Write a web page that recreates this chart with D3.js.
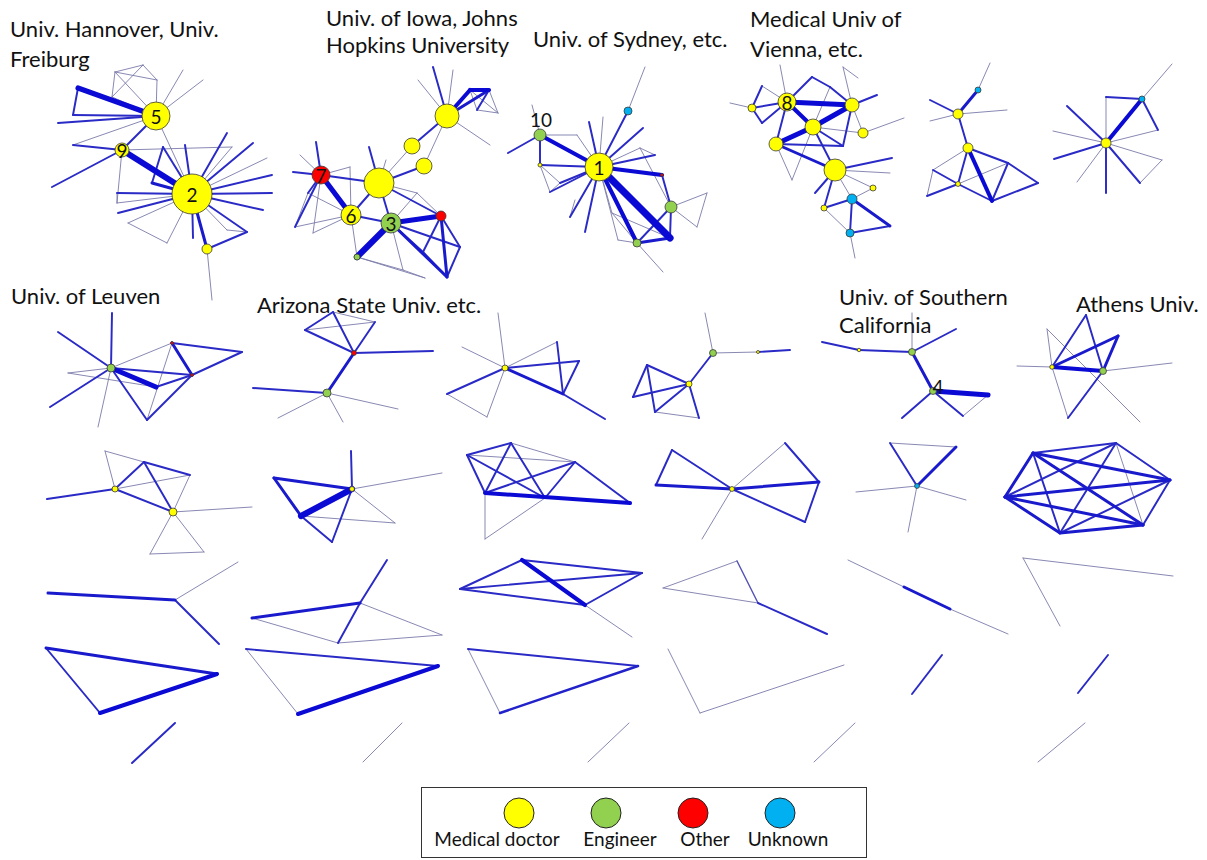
<!DOCTYPE html>
<html>
<head>
<meta charset="utf-8">
<script src="https://cdn.jsdelivr.net/npm/d3@7"></script>
<style>
    body { margin: 0; background: #fff; }
    #chart { width: 1207px; height: 860px; }
    text { font-family: Lato, "Open Sans", sans-serif; fill: #111; }
</style>
</head>
<body>
<div id="chart"></div>
<script>
/* * * * * * * * * * * * * *
*   co-author network data   *
* * * * * * * * * * * * * */

// node: [id, x, y, type, size, label]  type: M doctor, E engineer, O other, U unknown, "" = no marker
// edge: [source, target, weight]

const topNodes = [
    // Univ. Hannover, Univ. Freiburg
    ["h5",156,116,"M",196,"5"], ["h9",122,150,"M",49,"9"], ["h2",192,194,"M",400,"2"], ["hs",207,249,"M",25],
    ["ha",115,72,""], ["hb",143,65,""], ["hc",157,80,""], ["hd",112,97,""], ["he",78,88,""], ["hf",73,115,""],
    ["hg",58,123,""], ["hh",183,70,""], ["hi",203,80,""], ["hj",73,145,""], ["hk",52,187,""], ["hl",117,203,""],
    ["hr1",227,133,""], ["hr2",253,143,""], ["hr3",267,158,""], ["hr4",272,175,""], ["hr5",272,193,""],
    ["hr6",263,210,""], ["hr7",247,232,""], ["hr8",227,230,""], ["hr9",193,238,""], ["hr10",167,243,""],
    ["hr11",128,223,""], ["hr12",118,213,""], ["hr13",117,193,""], ["hr14",152,183,""], ["hr15",163,147,""],
    ["hr16",185,145,""], ["hr17",232,147,""], ["hz",212,300,""],
    // Univ. of Iowa, Johns Hopkins
    ["iA",447,116,"M",144], ["iB",412,146,"M",64], ["iC",424,166,"M",64], ["iD",379,183,"M",225],
    ["i7",321,175,"O",81,"7"], ["i6",351,215,"M",100,"6"], ["i3",391,223,"E",100,"3"], ["iR",441,216,"O",25], ["iG",357,257,"E",9],
    ["ia1",433,67,""], ["ia2",453,70,""], ["ia3",418,80,""], ["ia4",470,90,""], ["ia5",489,90,""], ["ia6",498,113,""],
    ["ia7",477,110,""], ["ia8",490,145,""], ["id1",369,147,""], ["id2",386,160,""], ["id3",417,193,""],
    ["is1",316,142,""], ["is2",300,155,""], ["is3",293,172,""], ["is4",350,167,""], ["is5",295,227,""],
    ["is6",308,193,""], ["is7",313,233,""], ["it1",460,247,""], ["it2",447,277,""], ["it3",403,270,""],
    ["it4",423,252,""], ["it5",425,278,""],
    // Univ. of Sydney
    ["s1",599,167,"M",196,"1"], ["s10",540,135,"E",36,"10"], ["sC",628,111,"U",16], ["sG",671,207,"E",36],
    ["sG2",637,243,"E",16], ["sy",540,165,"M",4], ["sr",662,175,"O",2],
    ["su1",589,122,""], ["su2",603,117,""], ["su3",645,67,""], ["su4",643,128,""], ["su5",655,155,""],
    ["su6",508,153,""], ["su7",532,105,""], ["su8",577,135,""], ["su9",550,192,""], ["su10",570,217,""],
    ["su11",585,232,""], ["su12",670,238,""], ["su13",707,193,""], ["su14",697,227,""], ["su15",663,272,""],
    ["su16",640,148,""], ["su17",560,183,""], ["su18",612,213,""], ["su19",618,240,""], ["su20",575,200,""],
    // Medical Univ of Vienna
    ["v8",787,102,"M",81,"8"], ["vL",752,108,"M",16], ["vT",852,105,"M",49], ["vC",813,127,"M",64],
    ["vLe",776,144,"M",49], ["vR",863,133,"M",25], ["vB",835,170,"M",121], ["vY1",873,188,"M",9],
    ["vC1",852,199,"U",25], ["vY2",824,208,"M",9], ["vC2",850,233,"U",16],
    ["vw1",762,86,""], ["vw2",762,123,""], ["vw3",730,103,""], ["vw4",780,65,""], ["vw5",812,77,""],
    ["vw6",830,87,""], ["vw7",858,78,""], ["vw8",843,67,""], ["vw9",877,95,""], ["vw10",904,118,""],
    ["vw11",892,158,""], ["vw12",890,173,""], ["vw13",815,193,""], ["vw14",890,226,""], ["vw15",855,258,""],
    ["vw16",792,180,""], ["vw17",843,146,""],
    // small component right of Vienna
    ["xC",978,90,"U",9], ["xY1",958,114,"M",25], ["xY2",968,148,"M",25], ["xg",933,170,""], ["xY3",958,184,"M",6],
    ["x1",990,63,""], ["x2",930,100,""], ["x3",930,121,""], ["x4",1007,110,""], ["x5",1008,163,""],
    ["x6",992,201,""], ["x7",1038,183,""], ["x8",927,196,""],
    // star
    ["zY",1106,143,"M",25], ["zC",1142,99,"U",9],
    ["z1",1172,64,""], ["z2",1106,97,""], ["z3",1158,130,""], ["z4",1067,106,""], ["z5",1053,131,""],
    ["z6",1054,159,""], ["z7",1077,182,""], ["z8",1106,193,""], ["z9",1140,183,""], ["z10",1162,160,""]
];

const topEdges = [
    ["ha","hb",1], ["hb","hc",1], ["ha","hc",1], ["hb","hd",1], ["ha","hd",1], ["hc","h5",1], ["hd","h5",1], ["ha","h5",1],
    ["h5","he",5], ["he","hf",2], ["hf","h5",2], ["hg","h5",2], ["h5","hh",1], ["h5","hi",1], ["h5","h9",2],
    ["h5","h2",1], ["h5","hj",1], ["hj","h9",2], ["h9","hk",2], ["h9","h2",6], ["h9","hl",1], ["hl","h2",1],
    ["hl","hr13",1], ["h9","hr17",1], ["hr17","h2",1], ["hr15","hr14",2], ["hr14","h2",3], ["hr15","h2",2],
    ["hr16","h2",2], ["h2","hr1",2], ["h2","hr2",2], ["h2","hr3",1], ["h2","hr4",2], ["h2","hr5",2],
    ["h2","hr6",2], ["h2","hr7",2], ["h2","hr8",1], ["h2","hr9",2], ["h2","hr10",1], ["h2","hr11",1],
    ["h2","hr12",2], ["h2","hr13",2], ["hr8","hr7",1], ["hr10","hr11",1], ["h2","hs",3], ["hs","hr7",2], ["hs","hz",1],

    ["iA","ia1",2], ["iA","ia2",1], ["iA","ia3",1], ["iA","ia4",4], ["iA","ia5",3], ["ia4","ia5",4], ["ia5","ia6",1],
    ["ia4","ia6",1], ["ia4","ia7",1], ["ia7","ia6",1], ["ia5","ia7",2], ["iA","ia8",1], ["iA","iB",2], ["iA","iC",1],
    ["iB","iD",1], ["iC","iD",2], ["iD","id1",2], ["iD","id2",1], ["iD","i6",2], ["iD","i3",2], ["iD","i7",2],
    ["iD","id3",1], ["iD","iR",2], ["id3","i3",1], ["id3","iR",1], ["i7","is1",2], ["i7","is2",1], ["i7","is3",2],
    ["i7","i6",5], ["i7","is4",1], ["i7","is5",2], ["i7","is6",2], ["i7","is7",1], ["is5","is6",1], ["is6","i6",1],
    ["is7","i6",1], ["is5","i6",1], ["is4","i6",1], ["i6","i3",2], ["i6","iG",1], ["i3","iR",5], ["i3","iG",6],
    ["i3","it1",2], ["i3","it2",3], ["iR","it2",3], ["iR","it1",2], ["iR","it4",2], ["it4","it2",2], ["iG","it3",1],
    ["i3","it3",1], ["it3","it5",1], ["iG","it5",1], ["it1","it2",2], ["i3","it4",2],

    ["s1","su1",2], ["s1","su2",1], ["s1","sC",2], ["sC","su3",1], ["s1","su4",2], ["s1","su5",2], ["s1","su16",1],
    ["su16","su5",1], ["s1","s10",4], ["s10","su6",2], ["s10","su7",1], ["s10","sy",2], ["s10","su8",1], ["su8","s1",1],
    ["s1","sy",2], ["sy","su9",1], ["sy","su17",1], ["s1","su17",2], ["su17","su9",1], ["s1","su9",2], ["s1","su10",2],
    ["s1","su11",2], ["su10","su20",1], ["s1","sr",4], ["sr","sG",2], ["s1","su12",7], ["s1","sG2",4], ["sG2","su12",3],
    ["sG","su12",2], ["sG","su13",1], ["sG","su14",1], ["su13","su14",1], ["sG2","su15",1], ["s1","su18",1],
    ["su18","su12",1], ["su18","sG2",1], ["s1","su19",1], ["su19","sG2",1], ["sG","sG2",2], ["su16","sG",1],

    ["v8","vT",5], ["v8","vC",4], ["vC","vLe",5], ["vC","vT",5], ["v8","vLe",2], ["vLe","vB",3], ["vC","vB",2],
    ["vB","vw11",2], ["vB","vw12",1], ["vB","vw13",2], ["vB","vC1",1], ["vC1","vC2",2], ["vC1","vw14",3],
    ["vw14","vC2",2], ["vY2","vC1",2], ["vC1","vY1",1], ["vB","vY1",1], ["vY2","vB",2], ["vC2","vw15",1],
    ["vY2","vC2",1], ["vL","vw3",1], ["vw1","vL",2], ["vL","vw2",2], ["vw1","v8",1], ["vw2","v8",2], ["vL","v8",2],
    ["v8","vw4",1], ["v8","vw5",2], ["vw5","vw6",2], ["vw6","vT",2], ["vw6","vC",1], ["vw7","vw8",1], ["vw8","vT",1],
    ["vT","vw9",2], ["vR","vw10",1], ["vT","vR",1], ["vC","vR",1], ["vLe","vw16",1], ["vw16","vC",1],
    ["vT","vw17",2], ["vw17","vLe",2], ["vw17","vC",2],

    ["xC","x1",1], ["xY1","xC",3], ["xY1","x2",2], ["xY1","x3",1], ["xY1","x4",1], ["xY1","xY2",2], ["xY2","xg",1],
    ["xY2","xY3",2], ["xY2","x6",4], ["xY2","x5",2], ["xg","xY3",2], ["xg","x8",1], ["x8","xY3",2], ["xY3","x6",2],
    ["xY3","x5",1], ["x6","x5",2], ["x5","x7",2], ["x6","x7",2],

    ["zC","z1",1], ["zY","zC",4], ["z2","zC",2], ["zY","z2",1], ["zC","z3",2], ["zY","z3",1], ["zY","z4",2],
    ["zY","z5",1], ["zY","z6",2], ["zY","z7",1], ["zY","z8",2], ["zY","z9",2], ["z9","z10",1], ["zY","z10",1]
];

const midNodes = [
    // Univ. of Leuven
    ["lG",111,368,"E",16], ["lR",172,343,"O",2], ["l7",192,375,"O",2],
    ["l1",112,313,""], ["l2",58,332,""], ["l3",68,373,""], ["l4",50,407,""], ["l5",98,427,""], ["l6",147,420,""],
    ["l8",156,387,""], ["l9",242,352,""],
    // Arizona State Univ.
    ["aR",354,353,"O",6], ["aG",327,393,"E",16],
    ["a1",305,330,""], ["a2",333,312,""], ["a3",375,322,""], ["a4",433,351,""], ["a5",253,388,""],
    ["a6",278,418,""], ["a7",343,422,""], ["a8",398,409,""],
    ["bY",505,368,"M",9],
    ["b1",498,313,""], ["b2",462,347,""], ["b3",557,342,""], ["b4",563,394,""], ["b5",579,361,""],
    ["b6",605,419,""], ["b7",447,394,""], ["b8",487,417,""],
    ["cY",689,384,"M",9], ["cG",713,353,"E",12], ["c0",758,352,"M",2],
    ["c1",705,313,""], ["c2",790,350,""], ["c3",647,365,""], ["c4",633,397,""], ["c5",655,412,""], ["c6",699,418,""],
    // Univ. of Southern California
    ["eG",912,352,"E",12], ["e4",933,391,"E",12,"4"], ["ey",859,350,"M",3],
    ["e1",912,313,""], ["e2",956,329,""], ["e3",822,342,""], ["e5",988,395,""], ["e6",902,418,""], ["e7",963,416,""],
    // Athens Univ.
    ["kY",1052,367,"M",5], ["kG",1103,371,"E",12],
    ["k1",1047,329,""], ["k2",1086,315,""], ["k3",1118,336,""], ["k4",1068,418,""], ["k5",1140,422,""],
    ["k6",1017,366,""], ["k7",1172,363,""]
];

const midEdges = [
    ["lG","l1",2], ["lG","l2",2], ["lG","l3",1], ["lG","l4",2], ["lG","l5",1], ["lG","l6",2], ["lG","lR",1],
    ["lG","l8",5], ["lG","l7",2], ["l8","l7",2], ["lR","l7",3], ["lR","l9",2], ["l9","l7",2], ["lR","l6",1],
    ["l6","l7",2], ["l3","l8",1],
    ["aR","aG",3], ["aR","a1",2], ["aR","a2",2], ["aR","a3",2], ["a1","a2",2], ["a1","a3",1], ["a2","a3",1],
    ["aR","a4",2], ["aG","a5",2], ["aG","a6",1], ["aG","a7",1], ["aG","a8",1],
    ["bY","b1",1], ["bY","b2",1], ["bY","b3",1], ["b3","b4",2], ["bY","b5",2], ["b5","b4",2], ["bY","b4",3],
    ["b4","b6",2], ["bY","b7",2], ["b7","b8",1], ["bY","b8",1],
    ["cG","c1",1], ["cG","cY",2], ["cG","c0",1], ["c0","c2",2], ["cY","c3",2], ["cY","c4",2], ["c3","c4",2],
    ["c3","c5",2], ["c5","cY",2], ["c5","c6",1], ["cY","c6",2],
    ["eG","e1",1], ["eG","e2",2], ["eG","ey",2], ["ey","e3",2], ["eG","e4",3], ["e4","e5",5], ["e4","e6",2],
    ["e4","e7",2], ["e7","e5",1],
    ["kY","kG",4], ["kY","k3",3], ["kG","k3",3], ["kY","k2",2], ["k2","kG",2], ["kY","k6",1], ["kY","k4",1],
    ["k4","kG",2], ["kG","k7",1], ["k1","k5",1], ["k1","kY",1]
];

const row3Nodes = [
    ["mY1",115,489,"M",9], ["mY2",173,512,"M",16],
    ["m1",105,451,""], ["m2",144,462,""], ["m3",190,475,""], ["m4",47,499,""], ["m5",252,507,""],
    ["m6",150,554,""], ["m7",204,552,""],
    ["nY",352,489,"M",6],
    ["n1",351,451,""], ["n2",442,473,""], ["n3",274,478,""], ["n4",301,516,""], ["n5",332,542,""], ["n6",395,523,""],
    ["p1",467,455,""], ["p2",511,443,""], ["p3",575,462,""], ["p4",485,493,""], ["p5",545,498,""],
    ["p6",630,503,""], ["p7",485,539,""],
    ["qY",732,489,"M",6],
    ["q1",672,450,""], ["q2",656,485,""], ["q3",785,443,""], ["q4",819,482,""], ["q5",805,522,""], ["q6",702,539,""],
    ["oC",917,486,"U",6],
    ["o1",890,443,""], ["o2",956,447,""], ["o3",856,492,""], ["o4",966,500,""], ["o5",908,532,""],
    ["g1",1033,453,""], ["g2",1116,443,""], ["g3",1170,480,""], ["g4",1143,525,""], ["g5",1060,533,""], ["g6",1005,497,""]
];

const row3Edges = [
    ["mY1","m4",2], ["mY1","m1",1], ["m1","m2",1], ["mY1","m2",2], ["m2","m3",2], ["mY1","m3",1], ["m2","mY2",2],
    ["mY1","mY2",2], ["m3","mY2",1], ["mY2","m5",1], ["mY2","m6",1], ["mY2","m7",1], ["m6","m7",1],
    ["nY","n1",2], ["nY","n2",1], ["nY","n3",3], ["n3","n4",3], ["nY","n4",6], ["n4","n6",1], ["nY","n6",1],
    ["nY","n5",2], ["n4","n5",2],
    ["p1","p2",2], ["p2","p3",1], ["p1","p3",1], ["p1","p5",2], ["p2","p4",2], ["p2","p5",2], ["p3","p4",2],
    ["p3","p5",2], ["p1","p4",2], ["p4","p6",4], ["p3","p6",2], ["p4","p7",1], ["p5","p7",1],
    ["qY","q1",2], ["q1","q2",2], ["q2","qY",3], ["qY","q3",1], ["q3","q4",2], ["qY","q4",3], ["q4","q5",2],
    ["qY","q5",2], ["qY","q6",1],
    ["oC","o1",2], ["o1","o2",1], ["oC","o2",3], ["oC","o3",1], ["oC","o4",1], ["oC","o5",1],
    ["g1","g6",3], ["g6","g5",3], ["g5","g4",3], ["g4","g3",2], ["g3","g2",2], ["g2","g1",2], ["g1","g3",3],
    ["g6","g3",3], ["g6","g4",3], ["g1","g4",3], ["g2","g5",2], ["g2","g4",1], ["g1","g5",2], ["g2","g6",2], ["g3","g5",2]
];

const row4Nodes = [
    ["f1",48,593,""], ["f3",175,600,""], ["f4",238,562,""], ["f5",219,644,""],
    ["j1",360,603,""], ["j2",387,560,""], ["j3",252,618,""], ["j4",338,643,""], ["j5",442,635,""],
    ["y1",522,560,""], ["y2",642,573,""], ["y3",460,589,""], ["y4",585,605,""], ["y5",632,637,""],
    ["d1",737,561,""], ["d2",663,588,""], ["d3",758,603,""], ["d4",827,634,""],
    ["u1",848,560,""], ["u2",904,587,""], ["u3",950,609,""], ["u4",1008,634,""],
    ["w1",1023,558,""], ["w2",1173,576,""], ["w3",1060,626,""]
];

const row4Edges = [
    ["f1","f3",3], ["f3","f4",1], ["f3","f5",2],
    ["j1","j2",2], ["j3","j1",3], ["j3","j4",1], ["j1","j4",2], ["j1","j5",1], ["j4","j5",1],
    ["y1","y2",2], ["y1","y3",2], ["y1","y4",4], ["y3","y2",2], ["y3","y4",2], ["y2","y4",2], ["y4","y5",1],
    ["d1","d2",1], ["d1","d3",1.5], ["d2","d3",1], ["d3","d4",2],
    ["u1","u2",1], ["u2","u3",3], ["u3","u4",1],
    ["w1","w2",1], ["w1","w3",1]
];

const row5Nodes = [
    ["A1",46,648,""], ["A2",217,674,""], ["A3",100,713,""],
    ["B1",246,649,""], ["B2",438,666,""], ["B3",298,714,""],
    ["C1",468,649,""], ["C2",638,666,""], ["C3",500,713,""],
    ["D1",668,649,""], ["D2",700,713,""], ["D3",844,665,""],
    ["E1",942,655,""], ["E2",912,694,""],
    ["F1",1108,655,""], ["F2",1078,693,""],
    ["G1",175,723,""], ["G2",132,763,""], ["H1",402,723,""], ["H2",363,762,""],
    ["I1",629,723,""], ["I2",588,762,""], ["J1",855,723,""], ["J2",814,762,""],
    ["K1",1085,723,""], ["K2",1038,762,""]
];

const row5Edges = [
    ["A1","A2",3], ["A2","A3",4], ["A1","A3",2],
    ["B1","B2",2], ["B2","B3",4], ["B1","B3",1],
    ["C1","C2",2], ["C2","C3",2.5], ["C1","C3",1],
    ["D1","D2",1], ["D2","D3",1],
    ["E1","E2",2], ["F1","F2",2],
    ["G1","G2",2], ["H1","H2",1], ["I1","I2",1], ["J1","J2",1], ["K1","K2",1]
];

const titleLines = [
    ["Univ. Hannover, Univ.", 10, 37], ["Freiburg", 10, 67],
    ["Univ. of Iowa, Johns", 326, 26], ["Hopkins University", 326, 53],
    ["Univ. of Sydney, etc.", 533, 47],
    ["Medical Univ of", 750, 27], ["Vienna, etc.", 750, 57],
    ["Univ. of Leuven", 11, 304],
    ["Arizona State Univ. etc.", 257, 313],
    ["Univ. of Southern", 839, 305], ["California", 839, 333],
    ["Athens Univ.", 1076, 312]
];

const legendTypes = ["M", "E", "O", "U"];
const legendLabels = ["Medical doctor", "Engineer", "Other", "Unknown"];

// label nudges for the two labels that sit beside their node
const labelOffsets = {s10: [1, -16], e4: [5, -5]};


class NetworkVis {

    constructor(parentElement, nodes, edges){
        this.parentElement = parentElement;
        this.nodes = nodes;
        this.edges = edges;

        this.initVis()
    }

    initVis(){
        let vis = this;

        vis.width = 1207;
        vis.height = 860;

        vis.svg = d3.select("#" + vis.parentElement).append("svg")
            .attr("width", vis.width)
            .attr("height", vis.height);

        vis.svg.append("rect")
            .attr("width", vis.width)
            .attr("height", vis.height)
            .attr("fill", "#fff");

        // layout units are the original drawing units
        vis.x = d3.scaleLinear().domain([0, 1207]).range([0, vis.width]);
        vis.y = d3.scaleLinear().domain([0, 860]).range([0, vis.height]);
        vis.r = d3.scaleSqrt().domain([0, 400]).range([0, 20]);
        vis.strokeW = d3.scaleLinear().domain([1, 7]).range([0.9, 7.2]);
        vis.edgeColor = d3.scaleLinear()
            .domain([1, 2, 4])
            .range(["#7a7aaa", "#2a2ac6", "#0a0ad4"])
            .clamp(true);
        vis.fill = d3.scaleOrdinal()
            .domain(["M", "E", "O", "U"])
            .range(["#ffff00", "#92d050", "#ff0000", "#00b0f0"]);

        vis.wrangleData();
    }

    wrangleData(){
        let vis = this;

        vis.nodeById = new Map(vis.nodes.map(d => [d[0], {id: d[0], x: d[1], y: d[2], type: d[3], size: d[4] || 0, label: d[5]}]));

        vis.links = vis.edges.map(e => ({
            source: vis.nodeById.get(e[0]),
            target: vis.nodeById.get(e[1]),
            weight: e[2]
        })).sort((a, b) => a.weight - b.weight);

        vis.markers = Array.from(vis.nodeById.values())
            .filter(d => d.type !== "")
            .sort((a, b) => b.size - a.size);

        vis.updateVis();
    }

    updateVis(){
        let vis = this;

        // edges
        vis.svg.append("g")
            .attr("class", "edges")
            .selectAll("line")
            .data(vis.links)
            .enter().append("line")
            .attr("x1", d => vis.x(d.source.x))
            .attr("y1", d => vis.y(d.source.y))
            .attr("x2", d => vis.x(d.target.x))
            .attr("y2", d => vis.y(d.target.y))
            .attr("stroke", d => vis.edgeColor(d.weight))
            .attr("stroke-width", d => vis.strokeW(d.weight))
            .attr("stroke-linecap", "round");

        // nodes
        vis.svg.append("g")
            .attr("class", "nodes")
            .selectAll("circle")
            .data(vis.markers)
            .enter().append("circle")
            .attr("cx", d => vis.x(d.x))
            .attr("cy", d => vis.y(d.y))
            .attr("r", d => Math.max(1.5, vis.r(d.size)))
            .attr("fill", d => vis.fill(d.type))
            .attr("stroke", "#3a3a3a")
            .attr("stroke-width", 0.8);

        // node numbers
        vis.svg.append("g")
            .attr("class", "node-labels")
            .selectAll("text")
            .data(vis.markers.filter(d => d.label))
            .enter().append("text")
            .attr("x", d => vis.x(d.x) + (labelOffsets[d.id] ? labelOffsets[d.id][0] : 0))
            .attr("y", d => vis.y(d.y) + (labelOffsets[d.id] ? labelOffsets[d.id][1] : 0))
            .attr("text-anchor", "middle")
            .attr("dominant-baseline", "central")
            .style("font-size", "19px")
            .text(d => d.label);

        // group titles
        vis.svg.append("g")
            .attr("class", "titles")
            .selectAll("text")
            .data(titleLines)
            .enter().append("text")
            .attr("x", d => vis.x(d[1]))
            .attr("y", d => vis.y(d[2]))
            .style("font-size", "22px")
            .text(d => d[0]);

        // legend
        let legend = vis.svg.append("g").attr("class", "legend");

        legend.append("rect")
            .attr("x", 421.5).attr("y", 787.5)
            .attr("width", 445).attr("height", 70)
            .attr("fill", "#fff")
            .attr("stroke", "#333")
            .attr("stroke-width", 1);

        let legendX = d3.scalePoint()
            .domain(legendTypes)
            .range([519, 780]);
        let labelX = d3.scaleOrdinal().domain(legendTypes).range([497, 620, 705, 788]);

        legend.selectAll("circle")
            .data(legendTypes)
            .enter().append("circle")
            .attr("cx", d => legendX(d))
            .attr("cy", 813)
            .attr("r", 15)
            .attr("fill", d => vis.fill(d))
            .attr("stroke", "#222")
            .attr("stroke-width", 1);

        legend.selectAll("text")
            .data(legendTypes)
            .enter().append("text")
            .attr("x", d => labelX(d))
            .attr("y", 846)
            .attr("text-anchor", "middle")
            .style("font-size", "19px")
            .text((d, i) => legendLabels[i]);
    }
}

const allNodes = [...topNodes, ...midNodes, ...row3Nodes, ...row4Nodes, ...row5Nodes];
const allEdges = [...topEdges, ...midEdges, ...row3Edges, ...row4Edges, ...row5Edges];

new NetworkVis("chart", allNodes, allEdges);
</script>
</body>
</html>
